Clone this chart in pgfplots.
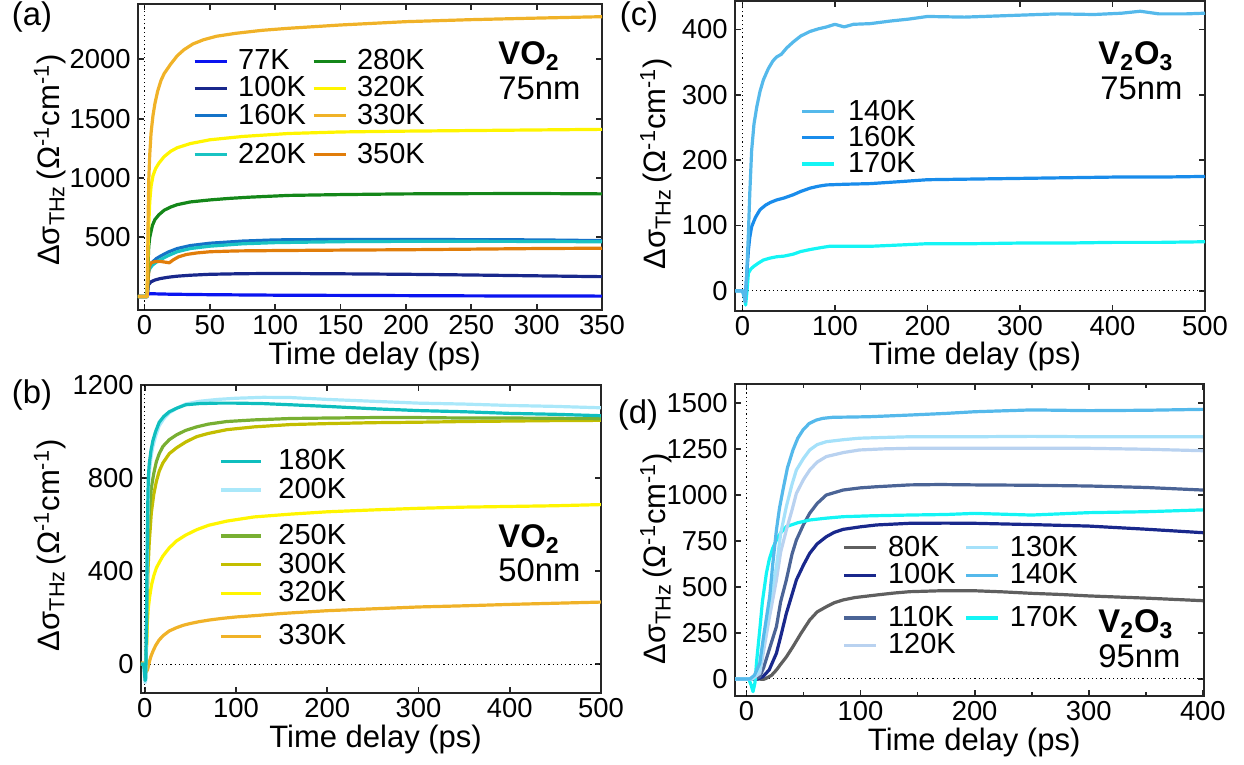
\documentclass[border=0pt]{standalone}
\usepackage{fontspec}
\setmainfont{Liberation Sans}
\usepackage{pgfplots}
\pgfplotsset{compat=1.18}

\definecolor{aBlue}{RGB}{10,20,240}
\definecolor{aNavy}{RGB}{25,40,140}
\definecolor{aMid}{RGB}{20,115,200}
\definecolor{aTeal}{RGB}{25,195,195}
\definecolor{aGreen}{RGB}{20,135,25}
\definecolor{aYel}{RGB}{255,245,0}
\definecolor{aGold}{RGB}{240,178,40}
\definecolor{aOrange}{RGB}{225,125,10}
\definecolor{bTeal}{RGB}{15,190,190}
\definecolor{bLCyan}{RGB}{170,232,250}
\definecolor{bGreen}{RGB}{120,175,50}
\definecolor{bOlive}{RGB}{195,190,0}
\definecolor{cSky}{RGB}{85,185,235}
\definecolor{cBlue}{RGB}{25,140,235}
\definecolor{cCyan}{RGB}{20,245,245}
\definecolor{dGray}{RGB}{95,95,95}
\definecolor{dSlate}{RGB}{75,100,150}
\definecolor{dPale}{RGB}{185,210,240}
\definecolor{dLight}{RGB}{165,225,250}

\newcommand{\tfont}{\fontsize{13.7}{15}\selectfont}
\newcommand{\lfont}{\fontsize{15.5}{17}\selectfont}
\newcommand{\gfont}{\fontsize{14.5}{16}\selectfont}
\newcommand{\pfont}{\fontsize{16.4}{18}\selectfont}

\tikzset{dotted0/.style={black, line width=0.5pt, dash pattern=on 0.6pt off 1.5pt}}

\pgfplotsset{
  panel/.style={
    scale only axis,
    anchor=south west,
    axis line style={line width=1pt, black!85},
    every tick/.style={line width=0.9pt, black!85},
    tick align=inside,
    major tick length=3pt,
    minor tick length=2pt,
    tick label style={font=\tfont, inner sep=0pt},
    /pgf/number format/assume math mode=true,
    /pgf/number format/1000 sep={},
    scaled ticks=false,
    yticklabel style={xshift=-3.5pt},
    xticklabel style={yshift=-2.5pt},
    label style={font=\lfont},
    xlabel={Time delay (ps)},
    ylabel={Δσ\textsubscript{THz}\,(Ω\textsuperscript{-1}cm\textsuperscript{-1})},
    x label style={at={(axis description cs:0.51,0)}, anchor=center, yshift=-23pt},
    legend cell align=left,
    legend image code/.code={\draw[##1] (0pt,0pt) -- (16pt,0pt);},
    legend style={draw=none, fill=none, inner sep=0pt, outer sep=0pt, font=\gfont,
      anchor=north west, nodes={inner sep=0pt},
      /tikz/every odd column/.style={column sep=5pt},
      /tikz/every even column/.style={column sep=3pt}},
    every axis plot/.append style={line width=1.6pt, line join=round},
  },
}

\begin{document}
\begin{tikzpicture}
\useasboundingbox (0,0) rectangle (622pt,382.5pt);

%%%%%%%%%%%%%%%%%% (a)
\begin{axis}[panel, at={(69pt,227.5pt)}, width=232pt, height=153pt,
  xmin=-5, xmax=350, ymin=-113, ymax=2467,
  xtick={0,50,...,350}, ytick={500,1000,1500,2000},
  ylabel style={at={(axis description cs:-0.19,0.49)}, anchor=center},
  legend columns=2,
  legend style={at={(axis description cs:0.1185,0.851)}, row sep=1.95pt}]
\draw[dotted0] (axis cs:0,-113) -- (axis cs:0,2467);
\addplot[aBlue, forget plot] coordinates {(-5,0)(2,0)(2.5,22)(5,24)(20,20)(50,16)(100,12)(150,10)(200,8)(250,6)(300,5)(350,4)};
\addplot[aNavy, forget plot] coordinates {(-5,0)(2,0)(3,100)(5,125)(8,140)(12,152)(18,163)(25,172)(35,180)(50,188)(75,193)(100,195)(150,192)(200,188)(250,182)(300,175)(350,168)};
\addplot[aMid, forget plot] coordinates {(-5,0)(2,0)(3,220)(4,260)(6,290)(9,320)(12,340)(18,375)(25,405)(35,430)(50,450)(75,468)(100,478)(150,482)(200,482)(250,480)(300,478)(350,472)};
\addplot[aTeal, forget plot] coordinates {(-5,0)(2,0)(3,200)(4,235)(6,265)(9,290)(12,310)(18,345)(25,378)(35,405)(50,425)(75,445)(100,455)(150,463)(200,466)(250,466)(300,465)(350,462)};
\addplot[aOrange, forget plot] coordinates {(-5,0)(2,0)(2.8,150)(3.5,250)(5,285)(8,295)(12,297)(16,290)(19,285)(22,310)(26,335)(32,355)(40,368)(50,378)(70,385)(100,388)(150,392)(200,395)(250,400)(300,405)(350,408)};
\addplot[aGreen, forget plot] coordinates {(-5,0)(2,0)(2.6,250)(3.2,420)(4,500)(6,600)(8,650)(11,690)(15,728)(20,755)(25,775)(35,798)(50,815)(65,828)(80,838)(110,853)(150,860)(200,866)(250,868)(300,869)(350,866)};
\addplot[aYel, forget plot] coordinates {(-5,0)(2,0)(2.5,300)(3,550)(4,800)(5,930)(6.5,1020)(8.5,1080)(11,1125)(15,1180)(20,1225)(25,1255)(35,1290)(50,1322)(75,1350)(110,1375)(150,1388)(200,1395)(250,1400)(300,1405)(350,1410)};
\addplot[aGold, forget plot] coordinates {(-5,0)(2,0)(2.4,300)(2.8,700)(3.3,1000)(4,1200)(5,1380)(6.5,1530)(8,1630)(10,1730)(12.5,1820)(15,1880)(20,1960)(25,2030)(30,2080)(37,2130)(45,2165)(55,2195)(70,2220)(90,2245)(110,2262)(150,2290)(200,2318)(250,2335)(300,2348)(350,2360)};
\addlegendimage{aBlue}\addlegendentry{77K}
\addlegendimage{aGreen}\addlegendentry{280K}
\addlegendimage{aNavy}\addlegendentry{100K}
\addlegendimage{aYel}\addlegendentry{320K}
\addlegendimage{aMid}\addlegendentry{160K}
\addlegendimage{aGold}\addlegendentry{330K}
\addlegendimage{empty legend}\addlegendentry{\rule{0pt}{2.45pt}}
\addlegendimage{empty legend}\addlegendentry{\rule{0pt}{2.45pt}}
\addlegendimage{aTeal}\addlegendentry{220K}
\addlegendimage{aOrange}\addlegendentry{350K}
\end{axis}

%%%%%%%%%%%%%%%%%% (b)
\begin{axis}[panel, at={(70.5pt,35.85pt)}, width=230pt, height=154.15pt,
  xmin=-4, xmax=500, ymin=-125, ymax=1200,
  xtick={0,100,...,500}, ytick={0,400,800,1200},
  ylabel style={at={(axis description cs:-0.198,0.48)}, anchor=center},
  legend image code/.code={\draw[#1] (0pt,0pt) -- (20pt,0pt);},
  legend style={at={(axis description cs:0.170,0.790)}, row sep=2.7pt,
    /tikz/every odd column/.style={column sep=8pt}}]
\draw[dotted0] (axis cs:0,-125) -- (axis cs:0,1200);
\draw[dotted0] (axis cs:-4,0) -- (axis cs:500,0);
\addplot[aGold, forget plot] coordinates {(-4,5)(0,5)(1.5,-35)(3,-25)(4,-10)(5.5,15)(7,35)(9,55)(12,80)(16,105)(21,125)(27,143)(35,157)(42,167)(50,175)(60,183)(71,190)(85,197)(100,203)(125,210)(150,218)(200,230)(250,238)(300,246)(350,251)(400,257)(450,262)(500,267)};
\addplot[aYel, forget plot] coordinates {(-4,0)(-1,0)(1,-20)(2,60)(3,180)(4,240)(5.5,290)(7.5,340)(10,380)(13,415)(16.4,440)(20,465)(27,500)(35,530)(45,555)(57,578)(70,597)(90,615)(120,633)(160,645)(200,655)(250,663)(300,670)(350,675)(400,678)(450,681)(500,686)};
\addplot[bOlive, forget plot] coordinates {(-4,0)(-1,0)(0.8,-30)(1.5,-15)(2.5,200)(3.6,400)(5,520)(7.3,650)(10,730)(12.8,785)(16,830)(20,865)(27,905)(35,930)(45,955)(57,978)(70,992)(90,1008)(120,1020)(160,1030)(200,1034)(250,1038)(300,1040)(350,1043)(400,1045)(450,1047)(500,1048)};
\addplot[bGreen, forget plot] coordinates {(-4,0)(-1,0)(0.8,-40)(1.5,-20)(2.5,250)(3.6,520)(5,650)(7.3,758)(10,820)(12.8,870)(16,905)(20,936)(27,965)(35,986)(45,1005)(57,1020)(70,1032)(90,1043)(120,1050)(160,1056)(200,1058)(250,1060)(300,1060)(350,1058)(400,1058)(450,1057)(500,1055)};
\addplot[bLCyan, forget plot] coordinates {(-4,0)(-1,0)(0.5,-80)(1.2,-70)(2,150)(3,520)(4,740)(5,820)(7,890)(9,935)(12,980)(16,1025)(21,1055)(27,1080)(35,1100)(45,1118)(60,1130)(80,1138)(100,1143)(130,1147)(160,1146)(200,1138)(250,1130)(300,1122)(350,1118)(400,1112)(450,1108)(500,1102)};
\addplot[bTeal, forget plot] coordinates {(-4,0)(-1,0)(0.5,-70)(1.2,-60)(2,200)(3,600)(4,800)(5,860)(7,920)(9,960)(12,1000)(16,1040)(21,1065)(27,1085)(35,1100)(45,1115)(60,1120)(80,1122)(100,1122)(130,1120)(160,1115)(200,1108)(250,1098)(300,1090)(350,1085)(400,1078)(450,1074)(500,1068)};
\addlegendimage{bTeal}\addlegendentry{180K}
\addlegendimage{bLCyan}\addlegendentry{200K}
\addlegendimage{empty legend}\addlegendentry{\rule{0pt}{4.45pt}}
\addlegendimage{bGreen}\addlegendentry{250K}
\addlegendimage{bOlive}\addlegendentry{300K}
\addlegendimage{aYel}\addlegendentry{320K}
\addlegendimage{empty legend}\addlegendentry{\rule{0pt}{2.95pt}}
\addlegendimage{aGold}\addlegendentry{330K}
\end{axis}

%%%%%%%%%%%%%%%%%% (c)
\begin{axis}[panel, at={(367.5pt,227.15pt)}, width=235pt, height=154.85pt,
  xmin=-8, xmax=500, ymin=-30.6, ymax=443.7,
  xtick={0,100,...,500}, ytick={0,100,...,400},
  ylabel style={at={(axis description cs:-0.168,0.475)}, anchor=center},
  legend style={at={(axis description cs:0.140,0.680)}, row sep=1.45pt,
    /tikz/every odd column/.style={column sep=6pt}}]
\draw[dotted0] (axis cs:0,-30.6) -- (axis cs:0,443.7);
\draw[dotted0] (axis cs:-8,0) -- (axis cs:500,0);
\addplot[cCyan, forget plot] coordinates {(-8,0)(0,0)(2,-8)(3.5,-22)(5,0)(6.5,27)(9,33)(12,37)(17,42)(22.7,47)(30,50)(37,52)(45,53)(55,56)(63,60)(73,63)(85,66)(94,68)(110,68)(138,68)(170,70)(200,72)(250,72)(300,73)(350,73)(400,74)(450,74)(500,75)};
\addplot[cBlue, forget plot] coordinates {(-8,0)(0,0)(2,-5)(3,-14)(4.5,20)(6.5,62)(8,82)(10,98)(14,112)(19,124)(25,131)(30,135)(37,139)(45,142)(55,147)(63,152)(73,157)(82,160)(91,162)(110,163)(138,164)(170,167)(200,170)(250,171)(300,172)(350,173)(400,174)(450,174)(500,175)};
\addplot[cSky, forget plot] coordinates {(-8,0)(0,0)(2,-10)(3,-17)(4.5,20)(6.5,88)(8,150)(10,215)(12.5,255)(15.6,282)(19,305)(22.7,323)(28,340)(33,352)(37,358)(42,362)(48,372)(55,381)(63,390)(73,397)(82,401)(91,404)(100,408)(110,404)(120,408)(138,409)(160,413)(180,416)(200,420)(240,419)(280,421)(300,422)(340,424)(380,423)(410,425)(430,428)(450,424)(480,424)(500,425)};
\addlegendimage{cSky}\addlegendentry{140K}
\addlegendimage{cBlue}\addlegendentry{160K}
\addlegendimage{cCyan}\addlegendentry{170K}
\end{axis}

%%%%%%%%%%%%%%%%%% (d)
\begin{axis}[panel, at={(367.5pt,34.5pt)}, width=234.5pt, height=156pt,
  xmin=-10, xmax=401, ymin=-92.5, ymax=1605,
  xtick={0,100,...,400}, minor x tick num=1, ytick={0,250,...,1500},
  ylabel style={at={(axis description cs:-0.168,0.44)}, anchor=center},
  legend columns=2,
  legend style={at={(axis description cs:0.230,0.512)}, row sep=2.0pt,
    /tikz/every even column/.style={column sep=4.5pt}}]
\draw[dotted0] (axis cs:0,-92.5) -- (axis cs:0,1605);
\draw[dotted0] (axis cs:-10,0) -- (axis cs:401,0);
\addplot[dGray, forget plot] coordinates {(-10,0)(10,0)(15,-2)(17.5,4)(22,20)(26.3,49)(30,80)(35,120)(40.8,176)(48,250)(55.5,321)(62,365)(70,393)(77,415)(84.7,430)(95,443)(114,457)(130,468)(143,475)(170,480)(200,480)(225,474)(250,466)(275,460)(300,452)(350,440)(400,426)};
\addplot[aNavy, forget plot] coordinates {(-10,0)(10,0)(14.6,13)(20,50)(26.3,140)(30,230)(35,357)(40,460)(43.8,539)(50,620)(55.5,684)(62,735)(70,774)(77,798)(84.7,814)(100,828)(114,838)(143,847)(175,848)(200,847)(250,840)(300,832)(350,815)(400,796)};
\addplot[dSlate, forget plot] coordinates {(-10,0)(8,0)(11.7,13)(15,60)(20,160)(26.3,285)(30,420)(35,539)(40,680)(43.8,756)(50,840)(55.5,902)(62,955)(70,1001)(84.7,1028)(100,1040)(114,1046)(143,1056)(170,1058)(200,1056)(250,1054)(300,1050)(350,1042)(400,1028)};
\addplot[cCyan, forget plot] coordinates {(-10,0)(2,0)(4,-30)(5.8,-69)(7.5,-20)(9,100)(11.7,267)(14,420)(17.5,575)(20,650)(23,710)(26.3,756)(30,795)(35,829)(45,850)(55.5,865)(70,875)(84.7,883)(110,888)(143,892)(175,895)(200,901)(250,892)(300,905)(350,910)(400,920)};
\addplot[dPale, forget plot] coordinates {(-10,0)(5,0)(11.7,31)(15,150)(20,330)(26.3,539)(30,690)(35,811)(40,920)(43.8,1010)(50,1085)(55.5,1137)(62,1180)(70,1210)(85,1232)(99,1246)(120,1252)(143,1255)(200,1255)(250,1255)(300,1255)(350,1250)(400,1242)};
\addplot[dLight, forget plot] coordinates {(-10,0)(5,0)(11.7,49)(15,200)(20,400)(26.3,611)(30,790)(35,938)(40,1060)(43.8,1137)(50,1200)(55.5,1246)(62,1275)(70,1291)(85,1302)(99,1310)(120,1314)(143,1318)(200,1318)(250,1320)(300,1318)(350,1318)(400,1318)};
\addplot[cSky, forget plot] coordinates {(-10,0)(3,0)(7,20)(11.7,85)(15,230)(20.4,448)(23,620)(26.3,811)(29,930)(32,1028)(36,1150)(40.8,1246)(45,1310)(49.6,1355)(55,1390)(61.3,1409)(67,1418)(75.9,1424)(90,1425)(108,1427)(143,1436)(175,1445)(200,1454)(250,1464)(300,1460)(350,1462)(400,1467)};
\addlegendimage{dGray}\addlegendentry{80K}
\addlegendimage{dLight}\addlegendentry{130K}
\addlegendimage{aNavy}\addlegendentry{100K}
\addlegendimage{cSky}\addlegendentry{140K}
\addlegendimage{empty legend}\addlegendentry{\rule{0pt}{4.35pt}}
\addlegendimage{empty legend}\addlegendentry{\rule{0pt}{4.35pt}}
\addlegendimage{dSlate}\addlegendentry{110K}
\addlegendimage{cCyan}\addlegendentry{170K}
\addlegendimage{dPale}\addlegendentry{120K}
\end{axis}

%%%%%%%%%%%%%%%%%% annotations
\node[font=\pfont] at (16pt,373.75pt) {(a)};
\node[font=\pfont] at (16pt,185pt) {(b)};
\node[font=\pfont] at (319.5pt,374pt) {(c)};
\node[font=\pfont] at (319pt,175pt) {(d)};
\node[font=\pfont\bfseries, anchor=base west, inner sep=0pt] at (249pt,350pt) {VO\textsubscript{2}};
\node[font=\pfont, anchor=base west, inner sep=0pt] at (249pt,332.5pt) {75nm};
\node[font=\pfont\bfseries, anchor=base west, inner sep=0pt] at (249pt,108.5pt) {VO\textsubscript{2}};
\node[font=\pfont, anchor=base west, inner sep=0pt] at (249pt,91.65pt) {50nm};
\node[font=\pfont\bfseries, anchor=base west, inner sep=0pt] at (549pt,350pt) {V\textsubscript{2}O\textsubscript{3}};
\node[font=\pfont, anchor=base west, inner sep=0pt] at (550pt,332.5pt) {75nm};
\node[font=\pfont\bfseries, anchor=base west, inner sep=0pt] at (549pt,66pt) {V\textsubscript{2}O\textsubscript{3}};
\node[font=\pfont, anchor=base west, inner sep=0pt] at (549pt,48.5pt) {95nm};
\end{tikzpicture}
\end{document}
